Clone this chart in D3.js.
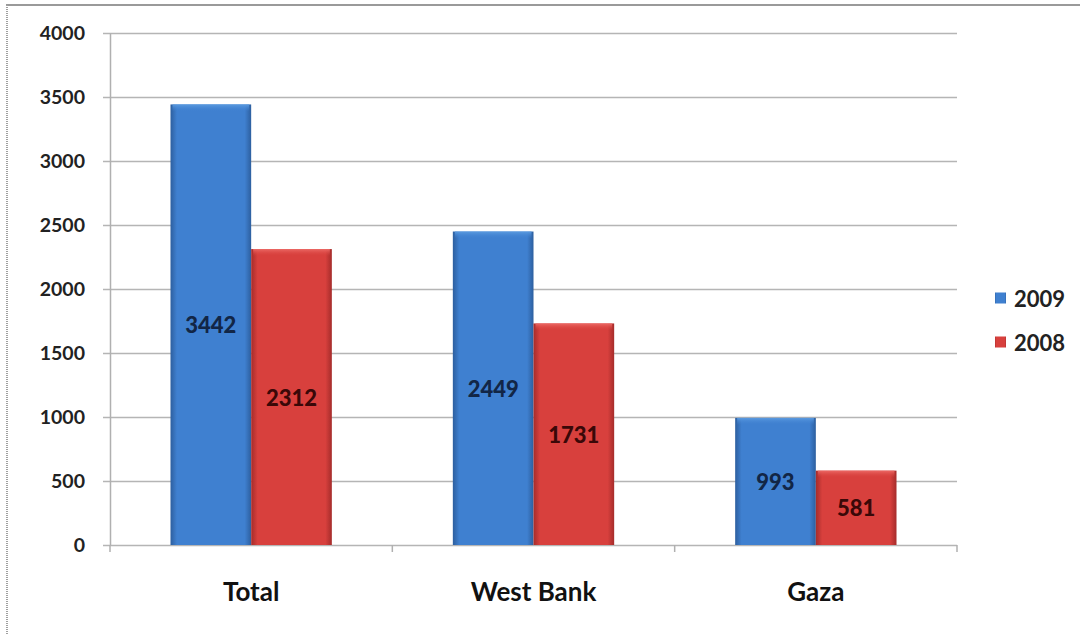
<!DOCTYPE html>
<html>
<head>
<meta charset="utf-8">
<script src="https://cdn.jsdelivr.net/npm/d3@7"></script>
<style>
  html, body { margin: 0; padding: 0; background: #fff; }
  svg { display: block; font-family: Lato, "Open Sans", sans-serif; }
</style>
</head>
<body>
<svg id="chart" width="1080" height="634"></svg>
<script>
const categories = ["Total", "West Bank", "Gaza"];
const seriesNames = ["2009", "2008"];
const values2009 = [3442, 2449, 993];
const values2008 = [2312, 1731, 581];
const yTicks = [0, 500, 1000, 1500, 2000, 2500, 3000, 3500, 4000];

const svg = d3.select("#chart");
const W = 1080, H = 634;
const plot = { left: 110, right: 957, top: 33, bottom: 545 };
const FONT = 'Lato, "Open Sans", sans-serif';

// frame
svg.append("line").attr("x1", 6).attr("x2", W).attr("y1", 5).attr("y2", 5)
  .attr("stroke", "#9a9a9a").attr("stroke-width", 2);
svg.append("line").attr("x1", 7).attr("x2", 7).attr("y1", 5).attr("y2", H)
  .attr("stroke", "#a0a0a0").attr("stroke-width", 2).attr("stroke-dasharray", "1,1");

const y = d3.scaleLinear().domain([0, 4000]).range([plot.bottom, plot.top]);
const x0 = d3.scaleBand().domain(categories).range([plot.left, plot.right]).paddingInner(0).paddingOuter(0);
const x1 = d3.scaleBand().domain(seriesNames).range([0, x0.bandwidth()]).paddingOuter(0.75).paddingInner(0);

const defs = svg.append("defs");
const palettes = {
  "2009": { edge: "#2d5f9f", mid: "#3f80d0", light: "#5b9be0", label: "#122646" },
  "2008": { edge: "#a52c2b", mid: "#d8403d", light: "#ec6a66", label: "#3a0808" }
};
seriesNames.forEach(s => {
  const p = palettes[s];
  const g = defs.append("linearGradient").attr("id", "g" + s).attr("x1", 0).attr("x2", 1).attr("y1", 0).attr("y2", 0);
  g.append("stop").attr("offset", "0%").attr("stop-color", p.edge);
  g.append("stop").attr("offset", "8%").attr("stop-color", p.mid);
  g.append("stop").attr("offset", "92%").attr("stop-color", p.mid);
  g.append("stop").attr("offset", "100%").attr("stop-color", p.edge);
  const t = defs.append("linearGradient").attr("id", "t" + s).attr("x1", 0).attr("x2", 0).attr("y1", 0).attr("y2", 1);
  t.append("stop").attr("offset", "0%").attr("stop-color", p.light);
  t.append("stop").attr("offset", "100%").attr("stop-color", p.mid).attr("stop-opacity", 0);
});

// gridlines
svg.append("g").selectAll("line").data(yTicks).join("line")
  .attr("x1", plot.left - 7).attr("x2", plot.right)
  .attr("y1", d => Math.round(y(d)) + 0.5).attr("y2", d => Math.round(y(d)) + 0.5)
  .attr("stroke", "#b5b5b5").attr("stroke-width", 1.5);

// y axis
const yAxis = d3.axisLeft(y).tickValues(yTicks).tickSize(0).tickPadding(25).tickFormat(d3.format("d"));
const ya = svg.append("g").attr("transform", `translate(${plot.left},0)`).call(yAxis)
  .attr("font-family", FONT);
ya.select(".domain").attr("stroke", "#b0b0b0").attr("stroke-width", 1.5);
ya.selectAll("text").attr("font-size", 19.5).attr("font-weight", 700).attr("fill", "#222");

// x axis
const xAxis = d3.axisBottom(x0).tickSize(0).tickPadding(38);
const xa = svg.append("g").attr("transform", `translate(0,${plot.bottom})`).call(xAxis)
  .attr("font-family", FONT);
xa.select(".domain").remove();
xa.selectAll("text").attr("font-size", 26).attr("font-weight", 700).attr("fill", "#111");
const bounds = categories.map(c => x0(c)).concat([x0(categories[categories.length - 1]) + x0.bandwidth()]);
svg.append("g").selectAll("line").data(bounds).join("line")
  .attr("x1", d => d).attr("x2", d => d).attr("y1", plot.bottom).attr("y2", plot.bottom + 7)
  .attr("stroke", "#b0b0b0").attr("stroke-width", 1.5);

// bars
const rows = [];
categories.forEach((c, i) => {
  rows.push({ cat: c, s: "2009", v: values2009[i] });
  rows.push({ cat: c, s: "2008", v: values2008[i] });
});
const bars = svg.append("g").selectAll("g").data(rows).join("g")
  .attr("transform", d => `translate(${x0(d.cat) + x1(d.s)},0)`);
bars.append("rect")
  .attr("x", 0).attr("y", d => y(d.v)).attr("width", x1.bandwidth()).attr("height", d => y(0) - y(d.v))
  .attr("fill", d => `url(#g${d.s})`);
bars.append("rect")
  .attr("x", 2).attr("y", d => y(d.v)).attr("width", x1.bandwidth() - 4).attr("height", 7)
  .attr("fill", d => `url(#t${d.s})`);
bars.append("text")
  .attr("x", x1.bandwidth() / 2).attr("y", d => (y(d.v) + y(0)) / 2)
  .attr("text-anchor", "middle").attr("dominant-baseline", "central")
  .attr("font-size", 22).attr("font-weight", 900)
  .attr("fill", d => palettes[d.s].label)
  .text(d => d.v);

// legend
const legend = svg.append("g").attr("transform", "translate(995,298)");
const li = legend.selectAll("g").data(seriesNames).join("g")
  .attr("transform", (d, i) => `translate(0,${i * 44})`);
li.append("rect").attr("x", 0).attr("y", -5.5).attr("width", 11).attr("height", 11)
  .attr("fill", d => `url(#g${d})`);
li.append("text").attr("x", 19).attr("y", 0).attr("dominant-baseline", "central")
  .attr("font-size", 22).attr("font-weight", 700).attr("fill", "#222").text(d => d);
</script>
</body>
</html>
